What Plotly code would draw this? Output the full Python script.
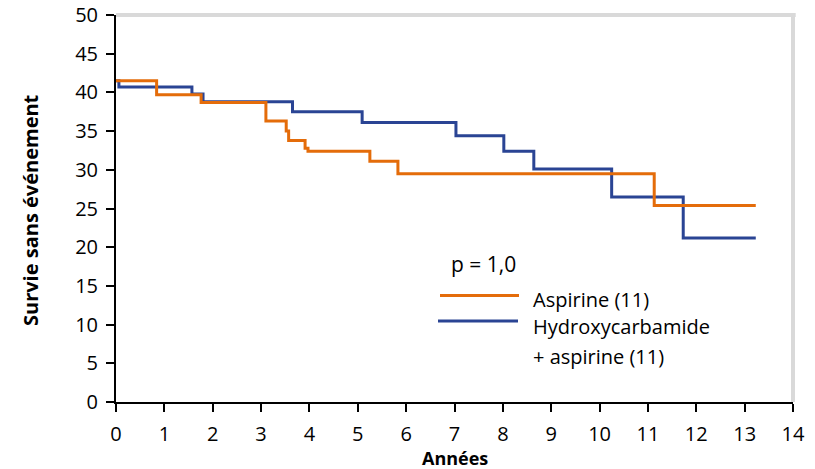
import plotly.graph_objects as go

# Data
aspirine_t = [0, 0.84, 1.76, 3.10, 3.52, 3.57, 3.91, 3.97, 5.25, 5.83, 11.13, 13.23]
aspirine_s = [41.5, 39.7, 38.7, 36.3, 35.0, 33.8, 32.8, 32.4, 31.1, 29.5, 25.4, 25.4]

hydroxy_t = [0, 0.06, 1.57, 1.80, 3.65, 5.09, 7.03, 8.02, 8.64, 10.25, 11.73, 13.23]
hydroxy_s = [41.5, 40.7, 39.8, 38.8, 37.5, 36.1, 34.4, 32.4, 30.1, 26.5, 21.2, 21.2]

x_ticks = list(range(0, 15))
y_ticks = list(range(0, 51, 5))

ORANGE = "#E46C0A"
BLUE = "#2A4494"
FONT = "Open Sans"

fig = go.Figure()
fig.add_trace(go.Scatter(x=hydroxy_t, y=hydroxy_s, mode="lines", line_shape="hv",
                         line=dict(color=BLUE, width=3), name="Hydroxycarbamide + aspirine (11)"))
fig.add_trace(go.Scatter(x=aspirine_t, y=aspirine_s, mode="lines", line_shape="hv",
                         line=dict(color=ORANGE, width=3), name="Aspirine (11)"))

# Page geometry (body margin removed by post_script)
W, H = 815, 469
PL, PR, PT, PB = 116, 793, 15, 402   # plot area in page pixels
L, R, T, B = PL, W - PR, PT, H - PB
PW, PH = PR - PL, PB - PT

def px(x):
    return (x - PL) / PW

def py(y):
    return (PB - y) / PH

fig.update_layout(
    width=W, height=H,
    margin=dict(l=L, r=R, t=T, b=B, autoexpand=False),
    paper_bgcolor="white", plot_bgcolor="white",
    showlegend=False,
    font=dict(family=FONT, size=20, color="black"),
    xaxis=dict(range=[0, 14], tickvals=x_ticks, showgrid=False, zeroline=False,
               showline=True, linecolor="black", linewidth=2, automargin=False,
               ticks="outside", ticklen=8, tickwidth=2, tickcolor="black",
               tickfont=dict(size=20), ticklabelstandoff=5, ticklabeloverflow="allow"),
    yaxis=dict(range=[0, 50], tickvals=y_ticks, showgrid=False, zeroline=False,
               showline=True, linecolor="black", linewidth=2, automargin=False,
               ticks="outside", ticklen=8, tickwidth=2, tickcolor="black",
               tickfont=dict(size=20), ticklabelstandoff=4, ticklabeloverflow="allow"),
    shapes=[
        dict(type="line", xref="paper", yref="paper", x0=0, x1=1.004, y0=1, y1=1,
             line=dict(color="#D9D9D9", width=4)),
        dict(type="line", xref="paper", yref="paper", x0=1, x1=1, y0=0, y1=1,
             line=dict(color="#D9D9D9", width=4), layer="below"),
        dict(type="line", xref="paper", yref="paper", x0=px(440), x1=px(519), y0=py(295.5), y1=py(295.5),
             line=dict(color=ORANGE, width=3)),
        dict(type="line", xref="paper", yref="paper", x0=px(438), x1=px(518), y0=py(321), y1=py(321),
             line=dict(color=BLUE, width=3)),
    ],
    annotations=[
        dict(text="<b>Années</b>", xref="paper", yref="paper", x=px(455), y=py(458),
             xanchor="center", yanchor="middle", showarrow=False, font=dict(size=18)),
        dict(text="<b>Survie sans événement</b>", xref="paper", yref="paper", x=px(30), y=py(210),
             xanchor="center", yanchor="middle", showarrow=False, textangle=-90, font=dict(size=20)),
        dict(text="p = 1,0", xref="paper", yref="paper", x=px(449), y=py(264),
             xanchor="left", yanchor="middle", showarrow=False, font=dict(size=21)),
        dict(text="Aspirine (11)", xref="paper", yref="paper", x=px(531), y=py(299),
             xanchor="left", yanchor="middle", showarrow=False, font=dict(size=20)),
        dict(text="Hydroxycarbamide", xref="paper", yref="paper", x=px(531), y=py(326),
             xanchor="left", yanchor="middle", showarrow=False, font=dict(size=20)),
        dict(text="+ aspirine (11)", xref="paper", yref="paper", x=px(531), y=py(356),
             xanchor="left", yanchor="middle", showarrow=False, font=dict(size=20)),
    ],
)

fig.write_html("out.html", config={"displayModeBar": False},
               post_script="document.body.style.margin='0';document.body.style.overflow='hidden';")
